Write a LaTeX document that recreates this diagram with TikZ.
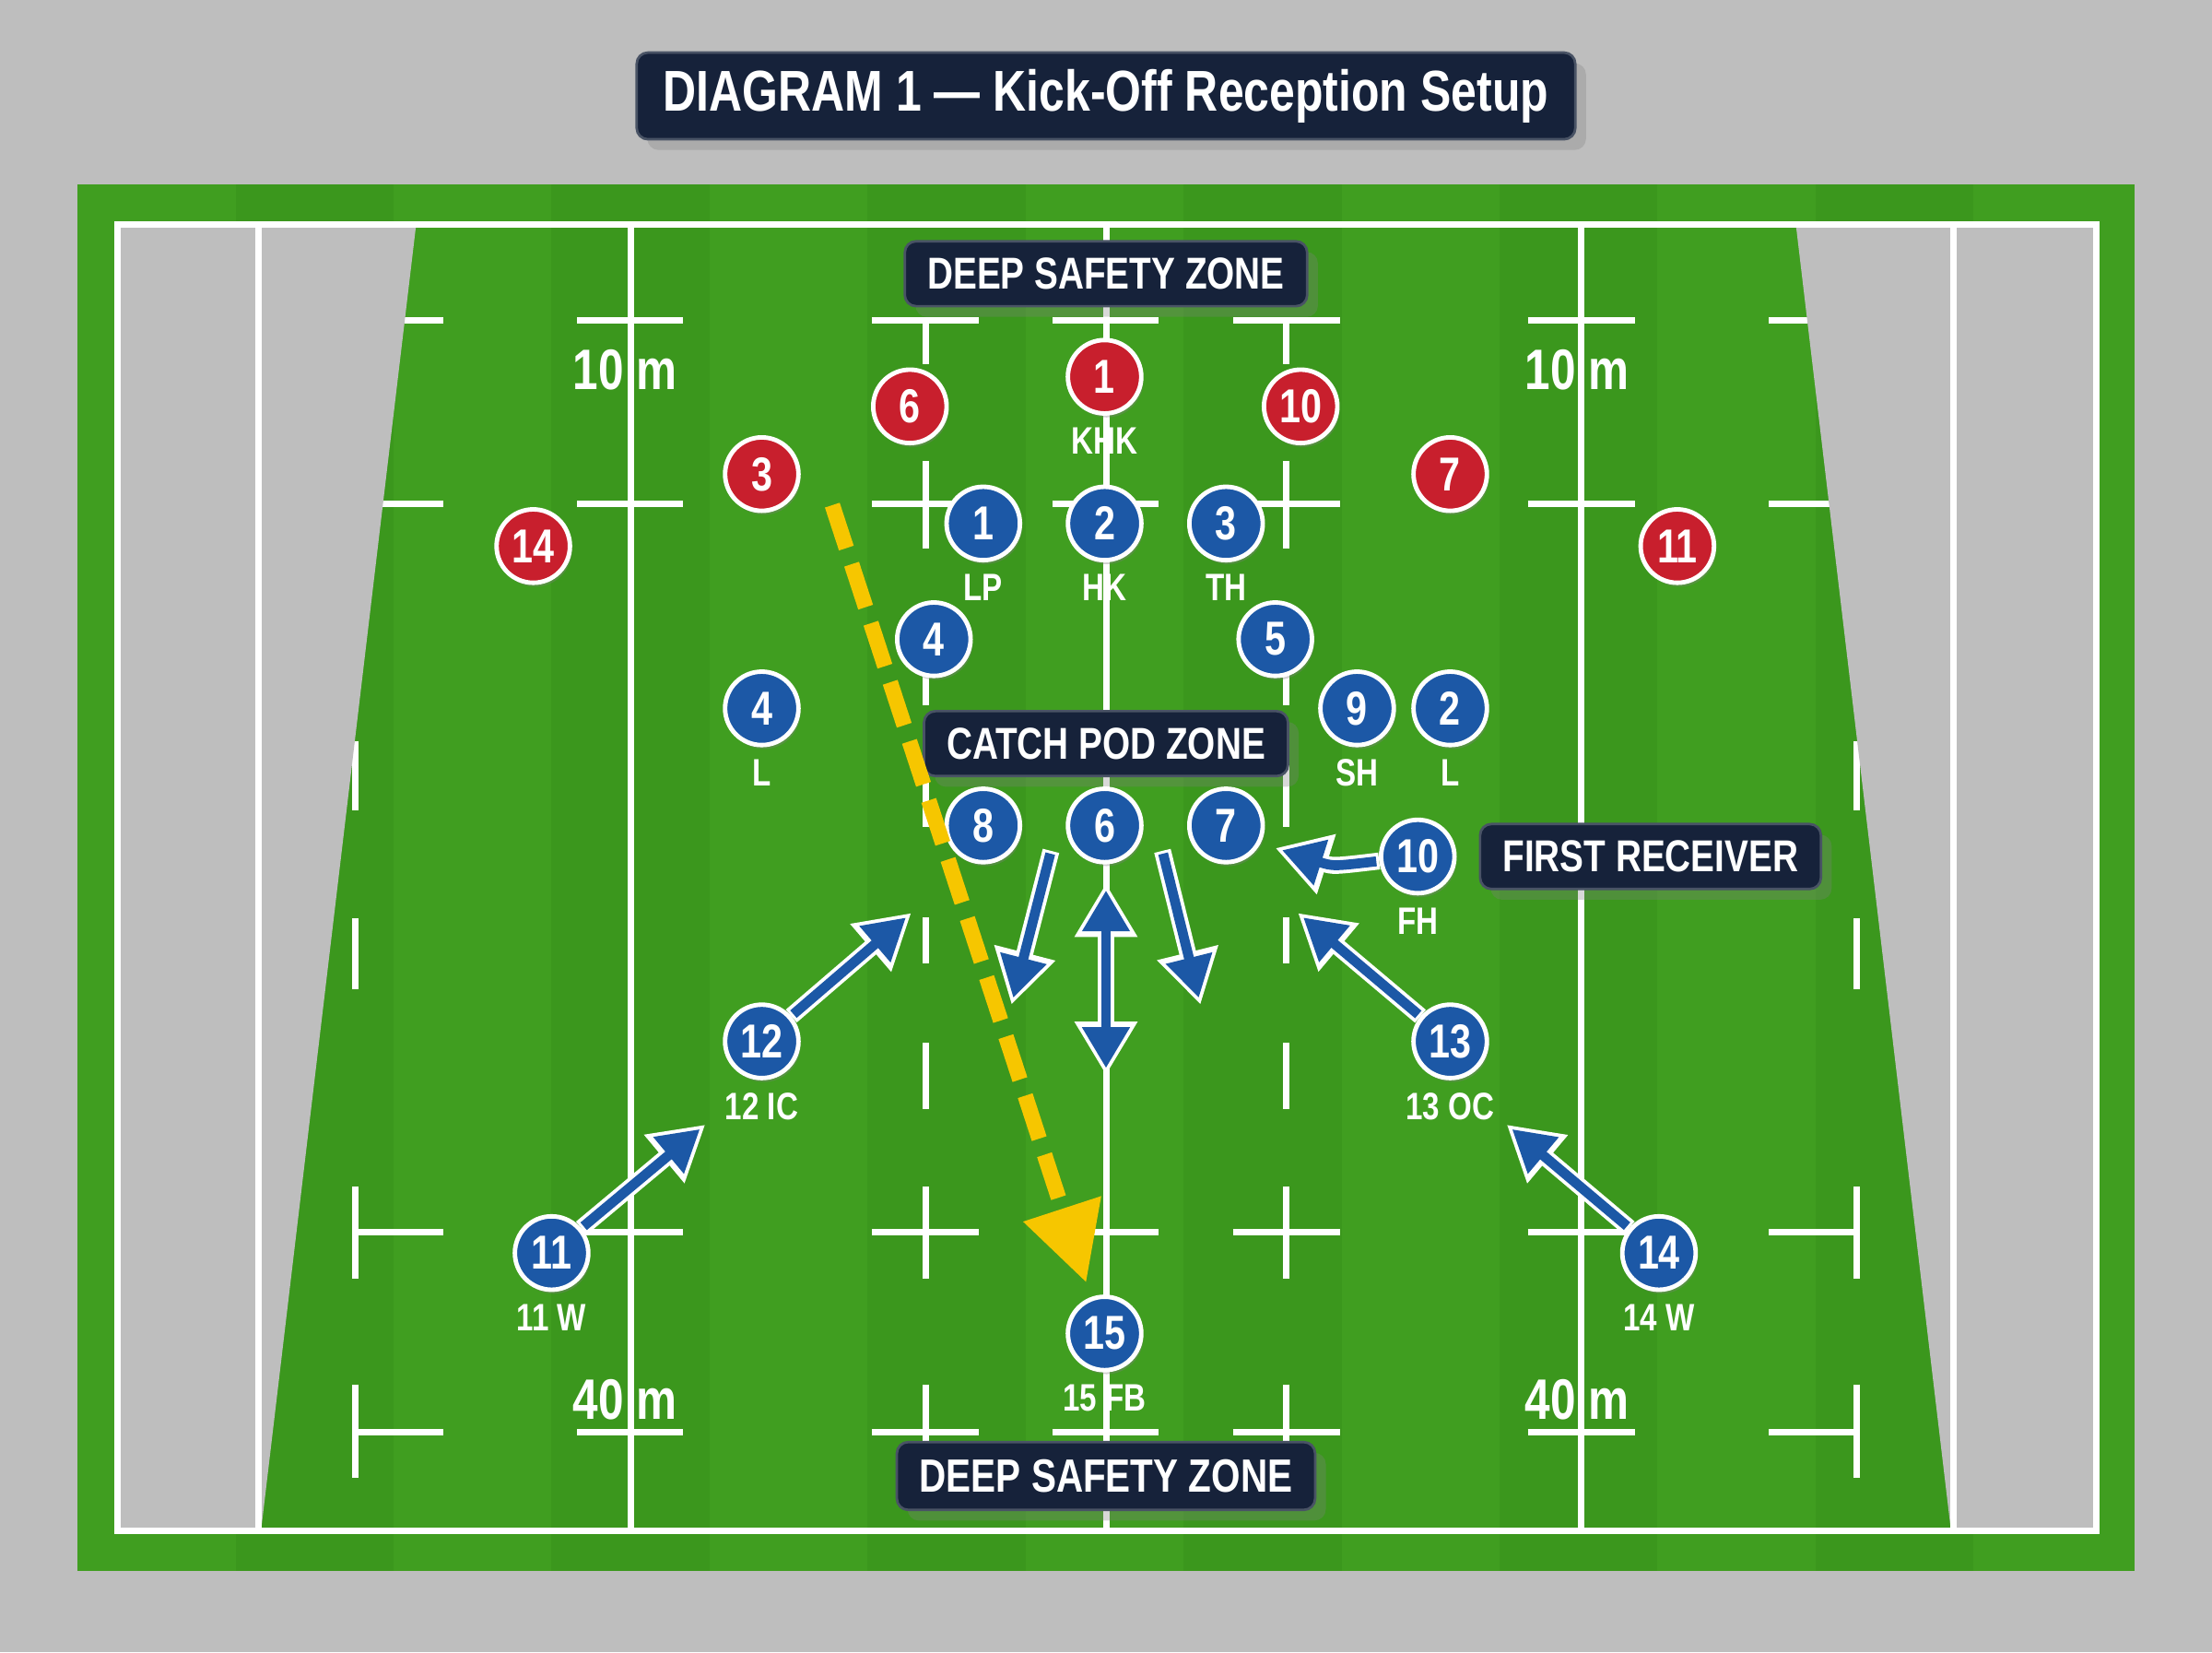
\documentclass[tikz,border=0pt]{standalone}
\usepackage{fontspec}
\usepackage{tikz}
\usetikzlibrary{positioning,arrows.meta,shadows}
\newfontfamily\condfont[FakeStretch=0.8]{Liberation Sans}
\definecolor{backgray}{RGB}{190,190,190}
\definecolor{turf}{RGB}{64,158,32}
\definecolor{turfdark}{RGB}{59,151,29}
\definecolor{navy}{RGB}{22,34,58}
\definecolor{kickred}{RGB}{200,31,45}
\definecolor{recblue}{RGB}{28,88,166}
\definecolor{flight}{RGB}{246,198,0}

\begin{document}
\begin{tikzpicture}[x=0.01cm,y=-0.01cm,node distance=0.86cm,label distance=0.08cm,
    player/.style={circle,draw=white,line width=0.9pt,minimum size=0.52cm,inner sep=0pt,
      text=white,font=\condfont\bfseries\fontsize{9.6}{10}\selectfont,
      drop shadow={opacity=0.35,shadow xshift=0.4pt,shadow yshift=-0.8pt}},
    kick/.style={player,fill=kickred},
    recv/.style={player,fill=recblue},
    rolelbl/.style={text=white,inner sep=0pt,font=\condfont\bfseries\fontsize{7.7}{8}\selectfont},
    zone/.style={fill=navy,draw=white!22!navy,line width=0.5pt,rounded corners=0.08cm,
      text=white,font=\condfont\bfseries\fontsize{9}{10}\selectfont,
      inner xsep=0.16cm,minimum height=0.46cm,drop shadow={opacity=0.3}},
    banner/.style={zone,font=\condfont\bfseries\fontsize{11.6}{12}\selectfont,
      inner xsep=0.19cm,minimum height=0.56cm},
    metre/.style={text=white,inner sep=0pt,font=\condfont\bfseries\fontsize{11.5}{12}\selectfont},
    line/.style={white,line width=1.3pt},
    runedge/.style={white,line width=0.12cm,>={Triangle[width=0.42cm,length=0.38cm]}},
    run/.style={recblue,line width=0.07cm,shorten >=0.05cm,shorten <=0.02cm,
      >={Triangle[width=0.32cm,length=0.29cm]}}]

  \useasboundingbox (0,0) rectangle (1568,1171);
  \fill[backgray] (0,0) rectangle (1568,1171);
  \fill[turf] (55,131) rectangle (1513,1113);
  \foreach \x in {167,391,615,839,1063,1287}
    \fill[turfdark] (\x,131) rectangle ++(112,982);

  \draw[line] (447,159) -- (447,1085) (784,159) -- (784,1085) (1121,159) -- (1121,1085);
  \foreach \y in {227,357,873,1015}
    \draw[line] (409,\y) -- (484,\y) (746,\y) -- (821,\y) (1083,\y) -- (1159,\y)
      (618,\y) -- (694,\y) (874,\y) -- (950,\y) (252,\y) -- (314,\y) (1254,\y) -- (1316,\y);
  \foreach \a/\b in {227/258,327/389,465/500,525/586,650/683,739/786,841/906,981/1047}
    \draw[line] (656,\a) -- (656,\b) (912,\a) -- (912,\b);
  \foreach \a/\b in {200/258,327/389,525/574,651/701,841/906,981/1047}
    \draw[line] (252,\a) -- (252,\b) (1316,\a) -- (1316,\b);

  \fill[backgray] (83,159) -- (295,159) -- (185,1085) -- (83,1085) -- cycle;
  \fill[backgray] (1273,159) -- (1486,159) -- (1486,1085) -- (1383,1085) -- cycle;
  \draw[line] (83,159) rectangle (1486,1085) (183,159) -- (183,1085) (1385,159) -- (1385,1085);

  \node[metre] (tenL) at (443,262) {10 m};
  \node[metre] (tenR) at (1118,262) {10 m};
  \node[metre] (fortyL) at (443,992) {40 m};
  \node[metre] (fortyR) at (1118,992) {40 m};

  \node[banner] (title) at (784,68) {DIAGRAM 1 — Kick-Off Reception Setup};
  \node[zone] (deeptop) at (784,194) {DEEP SAFETY ZONE};
  \node[zone] (pod) at (784,527) {CATCH POD ZONE};
  \node[zone] (first) at (1170,607) {FIRST RECEIVER};
  \node[zone,font=\condfont\bfseries\fontsize{9.4}{10}\selectfont,minimum height=0.48cm]
    (deepbot) at (784,1046) {DEEP SAFETY ZONE};

  \node[kick,label={[rolelbl]below:KHK}] (k1) at (783,267) {1};
  \node[kick] (k6) at (645,288) {6};
  \node[kick] (k10) at (922,288) {10};
  \node[kick] (k3) at (540,336) {3};
  \node[kick] (k7) at (1028,336) {7};
  \node[kick] (k14) at (378,387) {14};
  \node[kick] (k11) at (1189,387) {11};

  \node[recv,label={[rolelbl]below:LP}] (b1) at (697,371) {1};
  \node[recv,label={[rolelbl]below:HK},right of=b1] (b2) {2};
  \node[recv,label={[rolelbl]below:TH},right of=b2] (b3) {3};
  \node[recv] (b4) at (662,453) {4};
  \node[recv] (b5) at (904,453) {5};
  \node[recv,label={[rolelbl]below:L}] (lockL) at (540,502) {4};
  \node[recv,label={[rolelbl]below:SH}] (b9) at (962,502) {9};
  \node[recv,label={[rolelbl]below:L}] (lockR) at (1028,502) {2};
  \node[recv] (b8) at (697,585) {8};
  \node[recv,right of=b8] (b6) {6};
  \node[recv,right of=b6] (b7) {7};
  \node[recv,label={[rolelbl]below:FH}] (b10) at (1005,607) {10};
  \node[recv,label={[rolelbl]below:12 IC}] (b12) at (540,738) {12};
  \node[recv,label={[rolelbl]below:13 OC}] (b13) at (1028,738) {13};
  \node[recv,label={[rolelbl]below:11 W}] (b11) at (391,888) {11};
  \node[recv,label={[rolelbl]below:14 W}] (b14) at (1176,888) {14};
  \node[recv,label={[rolelbl]below:15 FB}] (b15) at (783,945) {15};

  \coordinate (kickoff) at (590,358);
  \coordinate (landing) at (770,909);
  \coordinate (to11) at (500,797);
  \coordinate (to12) at (646,647);
  \coordinate (to13) at (920,647);
  \coordinate (to14) at (1068,797);
  \coordinate (to10) at (904,601);
  \coordinate (podLa) at (745,603);
  \coordinate (podLb) at (717,712);
  \coordinate (podRa) at (824,603);
  \coordinate (podRb) at (851,712);
  \coordinate (podCa) at (784,626);
  \coordinate (podCb) at (784,762);

  \foreach \a/\b in {b11/to11,b12/to12,b13/to13,b14/to14,podLa/podLb,podRa/podRb}{
    \draw[runedge,->] (\a) -- (\b);
    \draw[run,->] (\a) -- (\b);
  }
  \draw[runedge,<->] (podCa) -- (podCb);
  \draw[run,<->,shorten <=0.05cm] (podCa) -- (podCb);
  \draw[runedge,->] (b10) .. controls (945,614) .. (to10);
  \draw[run,->] (b10) .. controls (945,614) .. (to10);

  \draw[flight,line width=0.11cm,dash pattern=on 0.32cm off 0.12cm,
    -{Triangle[width=0.55cm,length=0.55cm]}] (kickoff) -- (landing);
\end{tikzpicture}
\end{document}
